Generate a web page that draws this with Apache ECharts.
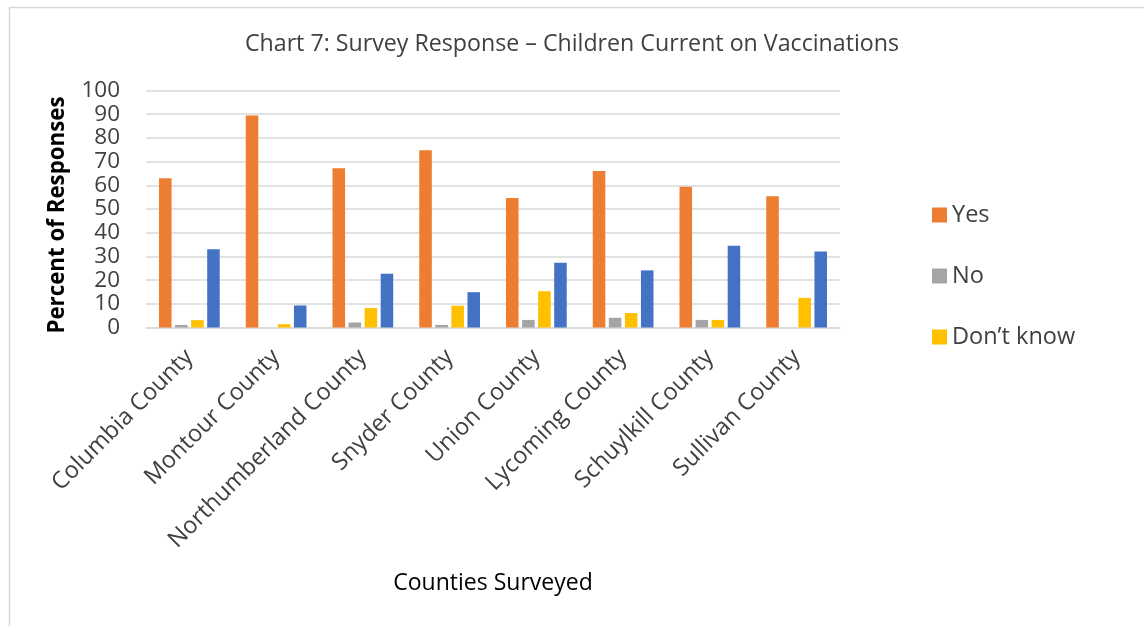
<!DOCTYPE html>
<html>
<head>
<meta charset="utf-8">
<title>Chart 7: Survey Response – Children Current on Vaccinations</title>
<script src="https://cdn.jsdelivr.net/npm/echarts@6/dist/echarts.min.js"></script>
<style>
  html, body { margin: 0; padding: 0; background: #fff; }
  #chart { width: 1144px; height: 626px; }
</style>
</head>
<body>
<div id="chart"></div>
<script>
// Counties surveyed and the share (%) of each response
const counties = [
  'Columbia County', 'Montour County', 'Northumberland County', 'Snyder County',
  'Union County', 'Lycoming County', 'Schuylkill County', 'Sullivan County'
];
const yesValues      = [63, 89.5, 67.2, 74.8, 54.6, 66, 59.4, 55.4];
const noValues       = [1.1, 0, 2.1, 1.1, 3.2, 4.1, 3.2, 0];
const dontKnowValues = [3.1, 1.4, 8.2, 9.2, 15.3, 6.1, 3.2, 12.5];
const otherValues    = [33, 9.3, 22.7, 14.9, 27.3, 24.1, 34.5, 32.1];
const yTicks = [0, 10, 20, 30, 40, 50, 60, 70, 80, 90, 100];

const FONT = '"Open Sans", "Noto Sans", sans-serif';

const chart = echarts.init(document.getElementById('chart'), null, { renderer: 'canvas' });

const bar = (name, data, color) => ({
  name: name,
  type: 'bar',
  data: data,
  barCategoryGap: '30%',
  barGap: '28%',
  itemStyle: { color: color },
  emphasis: { disabled: true }
});

chart.setOption({
  animation: false,
  backgroundColor: '#fff',
  textStyle: { fontFamily: FONT },
  graphic: [{
    type: 'rect',
    left: 7, top: 5,
    shape: { width: 1200, height: 700 },
    style: { fill: 'none', stroke: '#d9d9d9', lineWidth: 1.5 },
    silent: true
  }],
  title: {
    text: 'Chart 7: Survey Response – Children Current on Vaccinations',
    left: 'center',
    top: 28,
    textStyle: { fontFamily: FONT, fontSize: 23.2, fontWeight: 'normal', color: '#404040' }
  },
  legend: {
    orient: 'vertical',
    left: 927,
    top: 198,
    icon: 'rect',
    itemWidth: 15,
    itemHeight: 15,
    itemGap: 37,
    data: ['Yes', 'No', 'Don’t know'],
    textStyle: { fontFamily: FONT, fontSize: 23.5, color: '#404040', lineHeight: 23 }
  },
  grid: { left: 146, right: 304, top: 90.5, bottom: 298.5, containLabel: false },
  xAxis: {
    type: 'category',
    data: counties,
    name: 'Counties Surveyed',
    nameLocation: 'middle',
    nameGap: 244,
    nameTextStyle: { fontFamily: FONT, fontSize: 23, color: '#000' },
    axisLine: { lineStyle: { color: '#d9d9d9', width: 1.5 } },
    axisTick: { show: false },
    axisLabel: {
      interval: 0,
      rotate: 45,
      margin: 26,
      fontFamily: FONT,
      fontSize: 23.5,
      color: '#404040'
    }
  },
  yAxis: {
    type: 'value',
    min: yTicks[0],
    max: yTicks[yTicks.length - 1],
    interval: 10,
    name: 'Percent of Responses',
    nameLocation: 'middle',
    nameRotate: 90,
    nameGap: 77,
    nameTextStyle: {
      fontFamily: FONT, fontSize: 22.3, fontWeight: 'bold', color: '#000',
      padding: [0, 12, 0, 0]
    },
    axisLine: { show: false },
    axisTick: { show: false },
    splitLine: { lineStyle: { color: '#d9d9d9', width: 1.5 } },
    axisLabel: { margin: 26, fontFamily: FONT, fontSize: 22.5, color: '#404040' }
  },
  series: [
    bar('Yes', yesValues, '#ED7D31'),
    bar('No', noValues, '#A5A5A5'),
    bar('Don’t know', dontKnowValues, '#FFC000'),
    bar('Other', otherValues, '#4472C4')
  ]
});
</script>
</body>
</html>
